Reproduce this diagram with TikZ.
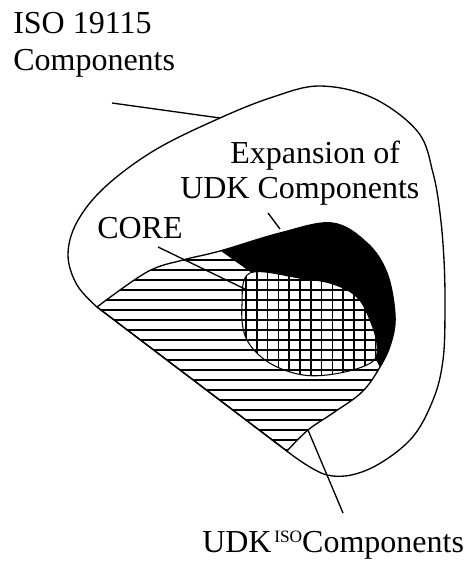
\documentclass[tikz,border=0pt]{standalone}
\usepackage{fontspec}
\setmainfont{Liberation Serif}
\def\HatchStep{10}
\def\CrossStep{10.8}
\def\LabelSize{24}
\def\SupSize{13}

\tikzset{
  outline/.style={line width=1pt, line join=round},
  hatchline/.style={line width=1.3pt},
  pointer/.style={line width=1pt},
  lbl/.style={font=\fontsize{\LabelSize}{28}\selectfont, inner sep=0pt, anchor=base west}
}

\begin{document}
\begin{tikzpicture}[x=0.75pt,y=-0.75pt]

% Page background
\useasboundingbox (0,0) rectangle (472,561);
\fill[white] (0,0) rectangle (472,561);

% =====================================================
% LABELS
% =====================================================
\node[lbl] (isoTop) at (13,33) {ISO 19115};
\node[lbl] (isoBottom) at (13,70) {Components};
\node[lbl] (expTop) at (230,163) {Expansion of};
\node[lbl] (expBottom) at (180,198) {UDK Components};
\node[lbl] (coreLabel) at (97,238) {CORE};
\node[lbl] (udkIso) at (202,552) {UDK\kern2pt\raisebox{7.5pt}{\fontsize{\SupSize}{\SupSize}\selectfont ISO}Components};

% =====================================================
% ISO 19115 AREA (outer blob)
% =====================================================
\draw[outline] plot[smooth, tension=0.6] coordinates {
  (288,452) (327,475) (367,470) (410,440) (433,400) (443,360)
  (445,310) (444,260) (440,213) (433,173) (418,132) (373,98)
  (320,86) (273,97) (220,118) (155,150) (105,187)
  (77,222) (68,255) (77,285) (97,307)} -- cycle;

% =====================================================
% UDK ISO AREA (horizontal hatching)
% =====================================================
\def\UdkPath{plot[smooth, tension=0.6] coordinates {
  (97,307) (147,272) (183,260) (220,251) (280,233) (332,223)
  (367,243) (387,273) (395,315) (391,343) (380,367) (362,392)
  (333,413) (308,430) (287,451)} -- cycle}

\begin{scope}
  \clip \UdkPath;
  \foreach \k in {0,...,20} {
    \pgfmathsetmacro{\yy}{250 + \k*\HatchStep}
    \draw[hatchline] (80,\yy) -- (420,\yy);
  }
  % Expansion of UDK components, black part
  \fill[black] (221,251) -- (210,150) -- (450,150) -- (450,380)
    -- (381,370) -- (365,335) -- (320,300) -- (256,276) -- cycle;
\end{scope}
\draw[outline] \UdkPath;

% =====================================================
% CORE (cross hatching)
% =====================================================
\def\CorePath{plot[smooth cycle, tension=0.6] coordinates {
  (250,273) (300,278) (333,284) (357,297) (370,320) (377,345)
  (372,362) (340,373) (303,375) (268,362) (246,338) (242,305)}}

\fill[white] \CorePath;
\begin{scope}
  \clip \CorePath;
  \foreach \k in {0,...,13} {
    \pgfmathsetmacro{\xx}{246 + \k*\CrossStep}
    \draw[hatchline] (\xx,260) -- (\xx,390);
  }
  \foreach \k in {0,...,11} {
    \pgfmathsetmacro{\yy}{270 + \k*\HatchStep}
    \draw[hatchline] (230,\yy) -- (390,\yy);
  }
\end{scope}
\draw[line width=0.8pt] \CorePath;

% =====================================================
% POINTERS
% =====================================================
\coordinate (isoTail) at (112,103);
\coordinate (isoHead) at (220,118);
\coordinate (expTail) at (268,213);
\coordinate (expHead) at (280,229);
\coordinate (coreTail) at (158,247);
\coordinate (coreHead) at (247,290);
\coordinate (udkTail) at (343,513);
\coordinate (udkHead) at (308,430);

\draw[pointer] (isoTail) -- (isoHead);
\draw[pointer] (expTail) -- (expHead);
\draw[pointer] (coreTail) -- (coreHead);
\draw[pointer] (udkTail) -- (udkHead);

\end{tikzpicture}
\end{document}
